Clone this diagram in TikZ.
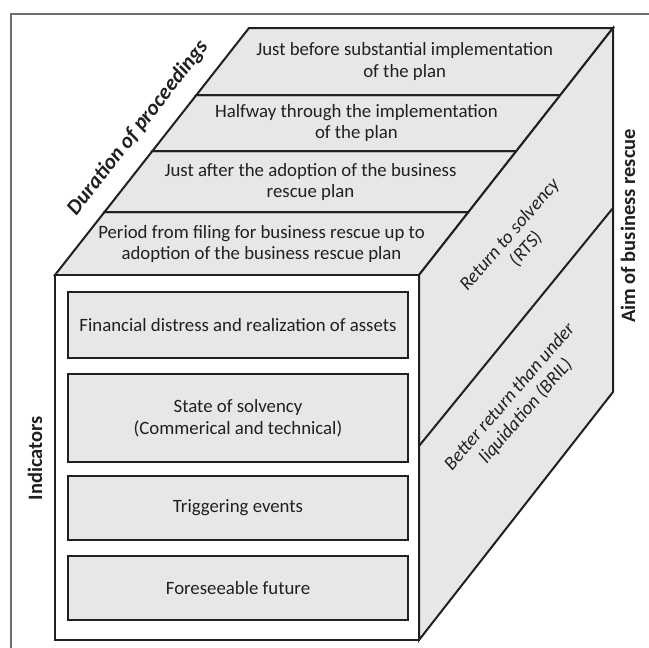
\documentclass[tikz,border=0pt]{standalone}
\usepackage{fontspec}
\setmainfont{Carlito}
\definecolor{facegray}{HTML}{E6E7E8}
\definecolor{edgecol}{HTML}{231F20}
\definecolor{framegray}{HTML}{6D6E71}
\definecolor{txtcol}{HTML}{231F20}
\begin{document}
\begin{tikzpicture}[x=1pt,y=-1pt,
  edgeline/.style={draw=edgecol,line width=2pt,line join=miter},
  face/.style={edgeline,fill=facegray},
  striptext/.style={align=center,font=\fontsize{18.8}{21.7}\selectfont,text=txtcol,inner sep=0pt},
  indbox/.style={draw=edgecol,line width=2pt,fill=facegray,minimum width=340pt,align=center,
    font=\fontsize{18.8}{21.7}\selectfont,text=txtcol,inner sep=0pt},
  sidetext/.style={align=center,rotate=49,font=\fontsize{19}{21.5}\selectfont\itshape,text=txtcol,inner sep=0pt},
  axislabel/.style={font=\fontsize{20.5}{24}\selectfont\bfseries,text=txtcol,inner sep=0pt}
]
\useasboundingbox (0,0) rectangle (649,648);
% outer frame (partial)
\coordinate (frameA) at (11,648);
\coordinate (frameB) at (11,14);
\coordinate (frameC) at (649,14);
\draw[framegray,line width=1.2pt] (frameA) -- (frameB) -- (frameC);

% cube corners
\coordinate (F1) at (55,275);
\coordinate (F2) at (419,275);
\coordinate (F3) at (419,640);
\coordinate (F4) at (55,640);
\coordinate (B1) at (249,28);
\coordinate (B2) at (613,28);
\coordinate (B3) at (613,392);
% strip levels on top face
\coordinate (L1) at (104.5,212); \coordinate (R1) at (468.5,212);
\coordinate (L2) at (152.4,151); \coordinate (R2) at (516.4,151);
\coordinate (L3) at (196.4,95);  \coordinate (R3) at (560.4,95);
% right face divider
\coordinate (D1) at (419,446);
\coordinate (D2) at (613,208);

% top face strips
\draw[face] (F1) -- (F2) -- (R1) -- (L1) -- cycle;
\draw[face] (L1) -- (R1) -- (R2) -- (L2) -- cycle;
\draw[face] (L2) -- (R2) -- (R3) -- (L3) -- cycle;
\draw[face] (L3) -- (R3) -- (B2) -- (B1) -- cycle;
% right face
\draw[face] (F2) -- (B2) -- (B3) -- (F3) -- cycle;
\draw[edgeline] (D1) -- (D2);
% front face
\draw[edgeline,fill=white] (F1) rectangle (F3);

% top face texts
\node[striptext] (s1) at (261.5,244) {Period from filing for business rescue up to\\adoption of the business rescue plan};
\node[striptext] (s2) at (310.5,182) {Just after the adoption of the business\\rescue plan};
\node[striptext] (s3) at (356.4,123) {Halfway through the implementation\\of the plan};
\node[striptext] (s4) at (404.7,61.5) {Just before substantial implementation\\of the plan};

% front face boxes
\node[indbox,minimum height=66pt] (i1) at (238,325) {Financial distress and realization of assets};
\node[indbox,minimum height=88pt] (i2) at (238,418) {State of solvency\\(Commerical and technical)};
\node[indbox,minimum height=64pt] (i3) at (238,508) {Triggering events};
\node[indbox,minimum height=64pt] (i4) at (238,588) {Foreseeable future};

% right face texts
\node[sidetext] (rts) at (518,242) {Return to solvency\\(RTS)};
\node[sidetext] (bril) at (518,404) {Better return than under\\liquidation (BRIL)};

% axis labels
\node[axislabel,rotate=90] (ind) at (35,458) {Indicators};
\node[axislabel,rotate=90] (aim) at (628,226) {Aim of business rescue};
\node[axislabel,rotate=52,font=\fontsize{21.5}{24}\selectfont\bfseries\itshape] (dur) at (138,128) {Duration of proceedings};
\end{tikzpicture}
\end{document}
